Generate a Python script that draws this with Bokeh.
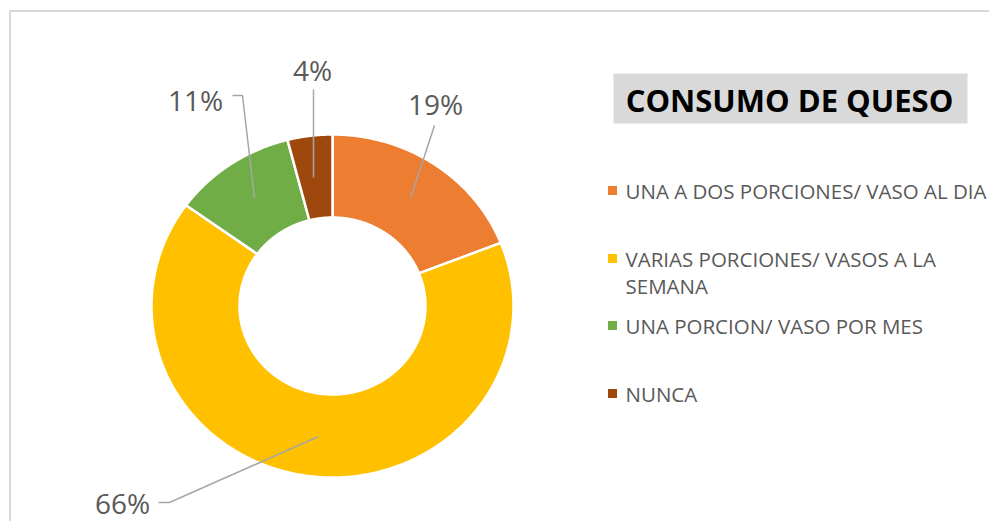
import numpy as np
from bokeh.plotting import figure
from bokeh.models import Range1d, ColumnDataSource
from bokeh.core.properties import value
from bokeh.embed import file_html
from bokeh.resources import INLINE

# ---- data ----
categories = ["UNA A DOS PORCIONES/ VASO AL DIA",
              "VARIAS PORCIONES/ VASOS A LA\nSEMANA",
              "UNA PORCION/ VASO POR MES",
              "NUNCA"]
percent = [19, 66, 11, 4]
pct_labels = ["19%", "66%", "11%", "4%"]
colors = ["#ED7D31", "#FFC000", "#70AD47", "#9E480E"]
title = "CONSUMO DE QUESO"

# ---- layout (screen pixel coordinates) ----
W, H = 989, 521
cx, cy = 332, 305.5
rx_o, ry_o = 181, 171.5
rx_i, ry_i = 93, 88.5
label_pos = [(435, 103), (122, 502), (195, 99), (312, 69)]
leader_xs = [[434, 410], [158, 169, 318], [232, 242, 254], [313, 313]]
leader_ys = [[125, 198], [502, 502, 436], [95, 95, 198], [89, 177]]
legend_x_sq, legend_x_txt = 612, 625
legend_y = [[190], [258, 285], [325], [393]]
FONT = "Open Sans"
TXT = "#595959"

p = figure(width=W, height=H, output_backend="svg", toolbar_location=None,
           x_range=Range1d(0, W), y_range=Range1d(H, 0),
           min_border=0)
p.axis.visible = False
p.grid.visible = False
p.outline_line_color = None
p.background_fill_color = "white"
p.border_fill_color = "white"

# frame border (only top/left visible in the window)
p.line([9.5, 9.5, 1200], [700, 10.5, 10.5], line_color="#d9d9d9", line_width=2)

# ---- donut slices from data ----
total = float(sum(percent))
frac = np.array(percent) / total
ends = np.cumsum(frac) * 2 * np.pi
starts = ends - frac * 2 * np.pi
xs, ys = [], []
for a0, a1 in zip(starts, ends):
    t = np.linspace(a0, a1, 200)
    xo = cx + rx_o * np.sin(t)
    yo = cy - ry_o * np.cos(t)
    xi = cx + rx_i * np.sin(t[::-1])
    yi = cy - ry_i * np.cos(t[::-1])
    xs.append(np.concatenate([xo, xi]).tolist())
    ys.append(np.concatenate([yo, yi]).tolist())
src = ColumnDataSource(dict(xs=xs, ys=ys, color=colors))
p.patches("xs", "ys", source=src, fill_color="color", line_color="white",
          line_width=2.5)

# leader lines
p.multi_line(leader_xs, leader_ys, line_color="#a6a6a6", line_width=1.5)

# percentage labels
p.text([q[0] for q in label_pos], [q[1] for q in label_pos], text=pct_labels,
       text_font=value(FONT), text_font_size="28px", text_color=TXT,
       text_align="center", text_baseline="middle")

# title box
p.quad(left=[613], right=[967], top=[73], bottom=[123], fill_color="#d9d9d9",
       line_color=None)
p.text([789], [99], text=[title], text_font=value(FONT), text_font_size="31px",
       text_font_style="bold", text_color="black", text_align="center",
       text_baseline="middle")

# legend
for cat, col, ylist in zip(categories, colors, legend_y):
    p.rect([legend_x_sq], [ylist[0]], width=9, height=9, fill_color=col,
           line_color=None)
    lines = cat.split("\n")
    p.text([legend_x_txt] * len(lines), ylist, text=lines,
           text_font=value(FONT), text_font_size="20.5px", text_color=TXT,
           text_align="left", text_baseline="middle")

open("out.html", "w").write(file_html(p, INLINE))
